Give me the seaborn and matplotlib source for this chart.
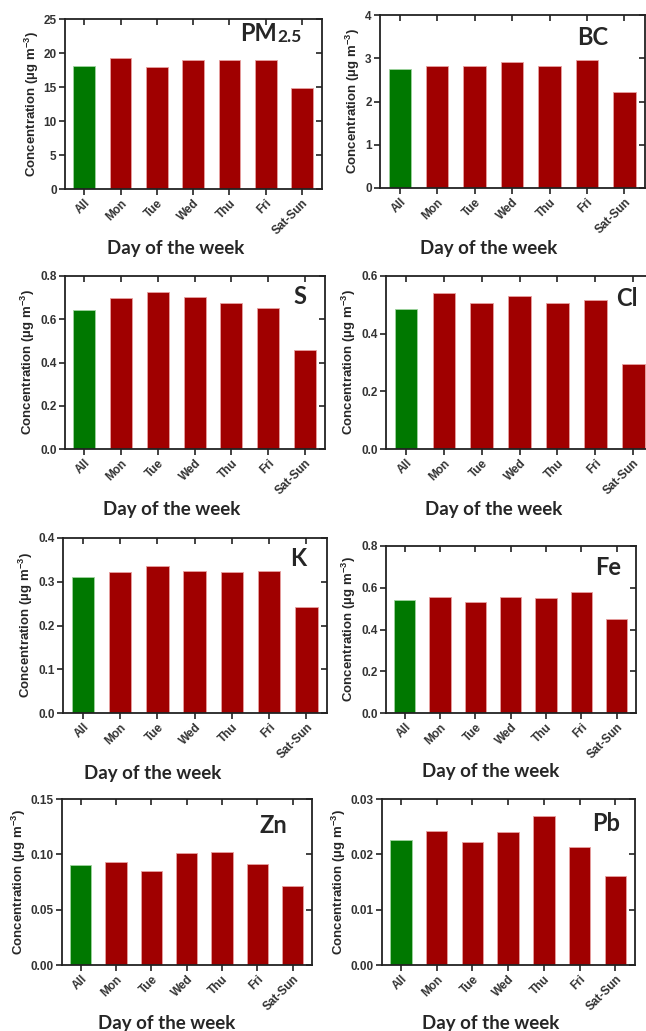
import matplotlib
matplotlib.use("Agg")
import matplotlib.pyplot as plt
import seaborn as sns

sns.set_style("white")
plt.rcParams['font.family'] = ['Liberation Sans', 'DejaVu Sans']
plt.rcParams['mathtext.fontset'] = 'custom'
plt.rcParams['mathtext.rm'] = 'Liberation Sans:bold'
plt.rcParams['mathtext.bf'] = 'Liberation Sans:bold'
plt.rcParams['mathtext.default'] = 'bf'

# Data
days = ['All', 'Mon', 'Tue', 'Wed', 'Thu', 'Fri', 'Sat-Sun']
pm25 = [18.1, 19.2, 18.0, 18.9, 18.9, 18.9, 14.8]
bc = [2.75, 2.83, 2.81, 2.92, 2.83, 2.95, 2.23]
s = [0.645, 0.696, 0.727, 0.704, 0.674, 0.651, 0.456]
cl = [0.484, 0.540, 0.506, 0.532, 0.506, 0.518, 0.294]
k = [0.312, 0.322, 0.335, 0.3235, 0.322, 0.3235, 0.243]
fe = [0.539, 0.558, 0.530, 0.558, 0.552, 0.582, 0.450]
zn = [0.0904, 0.0928, 0.0849, 0.1009, 0.1018, 0.0916, 0.0711]
pb = [0.0226, 0.0242, 0.0222, 0.0240, 0.0269, 0.0214, 0.0160]

species = ['PM', 'BC', 'S', 'Cl', 'K', 'Fe', 'Zn', 'Pb']
series = [pm25, bc, s, cl, k, fe, zn, pb]
yticks = [
    [0, 5, 10, 15, 20, 25],
    [0, 1, 2, 3, 4],
    [0.0, 0.2, 0.4, 0.6, 0.8],
    [0.0, 0.2, 0.4, 0.6],
    [0.0, 0.1, 0.2, 0.3, 0.4],
    [0.0, 0.2, 0.4, 0.6, 0.8],
    [0.00, 0.05, 0.10, 0.15],
    [0.00, 0.01, 0.02, 0.03],
]
tick_fmt = ['{:.0f}', '{:.0f}', '{:.1f}', '{:.1f}', '{:.1f}', '{:.1f}', '{:.2f}', '{:.2f}']

# panel boxes in pixels: left, top, right, bottom
boxes = [
    (65, 19, 322, 189), (380, 15, 645, 188),
    (65, 276, 325, 449), (386, 276, 654, 449),
    (63, 538, 327, 713), (386, 546, 636, 713),
    (62, 799, 312, 965), (382, 799, 635, 965),
]
name_pos = [(0.92, 0.89), (0.86, 0.87), (0.93, 0.88), (0.94, 0.87),
            (0.92, 0.88), (0.94, 0.87), (0.90, 0.84), (0.94, 0.85)]
xlab_x = [0.43, 0.41, 0.41, 0.40, 0.34, 0.42, 0.42, 0.43]

W, H = 646, 1031
fig = plt.figure(figsize=(W / 100, H / 100), dpi=100)

green = '#007800'
red = '#a00000'
colors = [green] + [red] * 6
ink = '#222222'
name_font = ['Lato', 'DejaVu Sans']

for i in range(8):
    l, t, r, b = boxes[i]
    ax = fig.add_axes([l / W, 1 - b / H, (r - l) / W, (b - t) / H])
    sns.barplot(x=days, y=series[i], hue=days, palette=colors, legend=False,
                width=0.6, ax=ax, saturation=1)
    for j, p in enumerate(ax.patches):
        p.set_edgecolor('#9fd39f' if j == 0 else '#e8a0a0')
        p.set_linewidth(0.6)
    ax.set_xlim(-0.53, 6.55)
    ax.set_ylim(yticks[i][0], yticks[i][-1])
    ax.set_yticks(yticks[i])
    ax.set_yticklabels([tick_fmt[i].format(v) for v in yticks[i]],
                       fontsize=8.5, fontweight='bold', color='#333333')
    ax.set_xticks(range(len(days)))
    ax.set_xticklabels(days, rotation=45, ha='right', rotation_mode='anchor',
                       fontsize=8.5, fontweight='bold', color='#333333')
    ax.tick_params(axis='both', which='major', direction='out', length=4,
                   width=1.2, color=ink, bottom=True, left=True, pad=2)
    # mirrored inner ticks on top and right
    sec = ax.secondary_xaxis('top')
    sec.set_xticks(range(len(days)))
    sec.tick_params(direction='in', length=4, width=1.2, color=ink, labeltop=False)
    sec.spines['top'].set_visible(False)
    secy = ax.secondary_yaxis('right')
    secy.set_yticks(yticks[i])
    secy.tick_params(direction='in', length=4, width=1.2, color=ink, labelright=False)
    secy.spines['right'].set_visible(False)
    for sp in ax.spines.values():
        sp.set_visible(True)
        sp.set_linewidth(1.3)
        sp.set_color(ink)

    ax.set_ylabel('Concentration (µg m$^{-3}$)', fontsize=9.5, fontweight='bold',
                  labelpad=2)
    ax.set_xlabel('Day of the week', fontsize=13.5, fontweight='bold',
                  family=name_font)
    ax.xaxis.set_label_coords(xlab_x[i], -0.30)
    ax.xaxis.label.set_va('top')

    nx, ny = name_pos[i]
    if species[i] == 'PM':
        sub = ax.text(nx, ny - 0.045, '2.5', transform=ax.transAxes, ha='right',
                      va='bottom', fontsize=12.5, fontweight='bold', family=name_font)
        ax.annotate('PM', xy=(0, 0), xycoords=sub, ha='right', va='bottom',
                    fontsize=17, fontweight='bold', family=name_font)
    else:
        ax.text(nx, ny, species[i], transform=ax.transAxes, ha='right', va='center',
                fontsize=17, fontweight='bold', family=name_font)

fig.savefig('out.png', dpi=100)
